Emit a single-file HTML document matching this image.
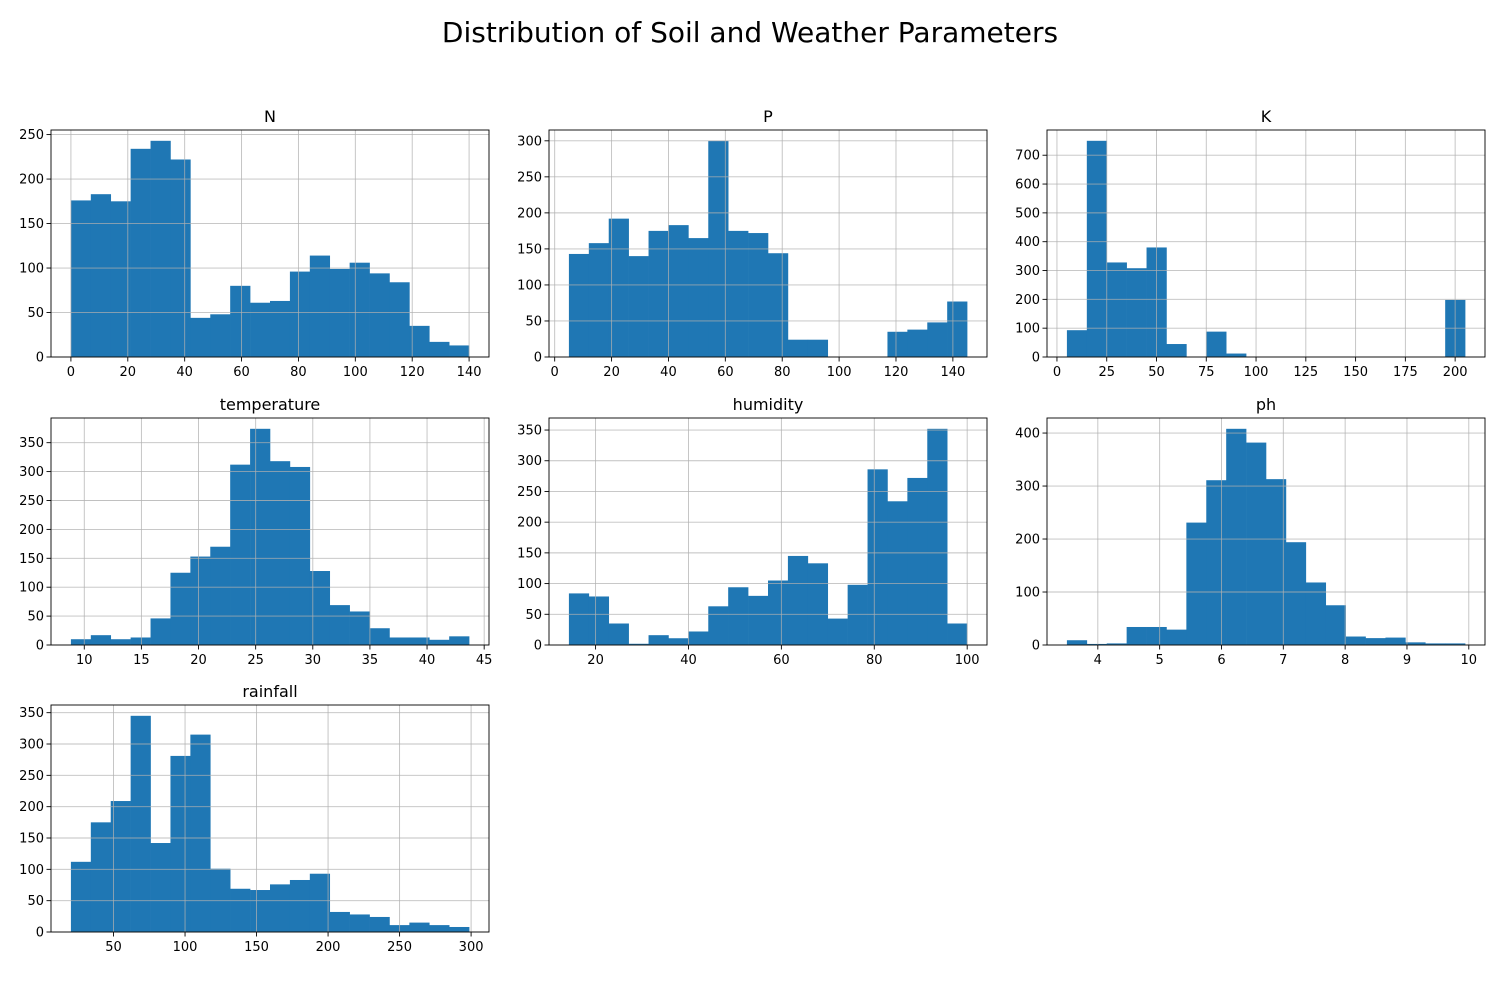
<!DOCTYPE html>
<html><head><meta charset="utf-8"><style>
body{margin:0;background:#fff;font-family:"Liberation Sans","DejaVu Sans",sans-serif}
svg text{font-family:"DejaVu Sans","Liberation Sans",sans-serif}
</style></head><body>
<svg id="fig" width="1500" height="1000">
<rect width="1500" height="1000" fill="#fff"/>
<text x="750" y="42" font-size="28" text-anchor="middle">Distribution of Soil and Weather Parameters</text>
</svg>
<script>
const nCounts=[176,183,175,234,243,222,44,48,80,61,63,96,114,99,106,94,84,35,17,13];
const pCounts=[143,158,192,140,175,183,165,300,175,172,144,24,24,0,0,0,35,38,48,77];
const kCounts=[93,750,328,308,380,45,0,88,12,0,0,0,0,0,0,0,0,0,0,198];
const tempCounts=[10,17,10,13,46,125,153,170,312,374,318,308,128,69,58,29,13,13,9,15];
const humCounts=[84,79,35,2,16,11,22,63,94,80,105,145,133,43,98,286,234,272,352,35];
const phCounts=[9,2,3,34,34,29,231,311,408,382,313,194,118,75,16,13,14,5,3,3];
const rainCounts=[112,175,209,345,142,281,315,101,69,67,76,83,93,32,28,24,11,15,11,8];
const ranges={N:[0,140],P:[5,145],K:[5,205],temperature:[8.83,43.68],humidity:[14.26,99.98],ph:[3.5,9.94],rainfall:[20.2,298.6]};
const xTicks={N:[0,20,40,60,80,100,120,140],P:[0,20,40,60,80,100,120,140],K:[0,25,50,75,100,125,150,175,200],temperature:[10,15,20,25,30,35,40,45],humidity:[20,40,60,80,100],ph:[4,5,6,7,8,9,10],rainfall:[50,100,150,200,250,300]};
const yTicks={N:[0,50,100,150,200,250],P:[0,50,100,150,200,250,300],K:[0,100,200,300,400,500,600,700],temperature:[0,50,100,150,200,250,300,350],humidity:[0,50,100,150,200,250,300,350],ph:[0,100,200,300,400],rainfall:[0,50,100,150,200,250,300,350]};
const panels=[["N",nCounts],["P",pCounts],["K",kCounts],["temperature",tempCounts],["humidity",humCounts],["ph",phCounts],["rainfall",rainCounts]];
const NS="http://www.w3.org/2000/svg";
const fig=document.getElementById('fig');
function mk(tag,attrs,parent){const e=document.createElementNS(NS,tag);for(const k in attrs)e.setAttribute(k,attrs[k]);parent.appendChild(e);return e;}
const colX=[51,549,1047],rowY=[130,418,705],W=438,H=227;
panels.forEach(([name,counts],i)=>{
  const ax=colX[i%3],ay=rowY[Math.floor(i/3)];
  const g=mk('g',{},fig);
  
  
  const [lo,hi]=ranges[name];const bw=(hi-lo)/counts.length;
  const xmin=lo-(hi-lo)*0.05,xmax=hi+(hi-lo)*0.05;
  const ymax=Math.max(...counts)*1.05;
  const sx=v=>ax+(v-xmin)/(xmax-xmin)*W;
  const sy=v=>ay+H-v/ymax*H;
  counts.forEach((c,j)=>{
    if(c<=0)return;
    const x0=sx(lo+j*bw),x1=sx(lo+(j+1)*bw);
    const r=mk('rect',{x:x0,y:sy(c),width:x1-x0+0.3,height:sy(0)-sy(c),fill:'#1f77b4'},g);
    
    
  });
  xTicks[name].forEach(t=>{
    const x=sx(t);
    mk('line',{x1:x,x2:x,y1:ay,y2:ay+H,stroke:'#b0b0b0','stroke-width':0.9,'stroke-opacity':0.8},g);
    mk('line',{x1:x,x2:x,y1:ay+H,y2:ay+H+4.5,stroke:'#000','stroke-width':0.9},g);
    const tx=mk('text',{x:x,y:ay+H+19,'font-size':13,'text-anchor':'middle'},g);tx.textContent=t;
  });
  yTicks[name].forEach(t=>{
    const y=sy(t);
    mk('line',{x1:ax,x2:ax+W,y1:y,y2:y,stroke:'#b0b0b0','stroke-width':0.9,'stroke-opacity':0.8},g);
    mk('line',{x1:ax-4.5,x2:ax,y1:y,y2:y,stroke:'#000','stroke-width':0.9},g);
    const tx=mk('text',{x:ax-7,y:y+4.5,'font-size':13,'text-anchor':'end'},g);tx.textContent=t;
  });
  mk('rect',{x:ax,y:ay,width:W,height:H,fill:'none',stroke:'#000','stroke-width':0.9},g);
  const tt=mk('text',{x:ax+W/2,y:ay-8,'font-size':16,'text-anchor':'middle'},g);
  tt.textContent=name;
  
  
});
</script>
</body></html>
